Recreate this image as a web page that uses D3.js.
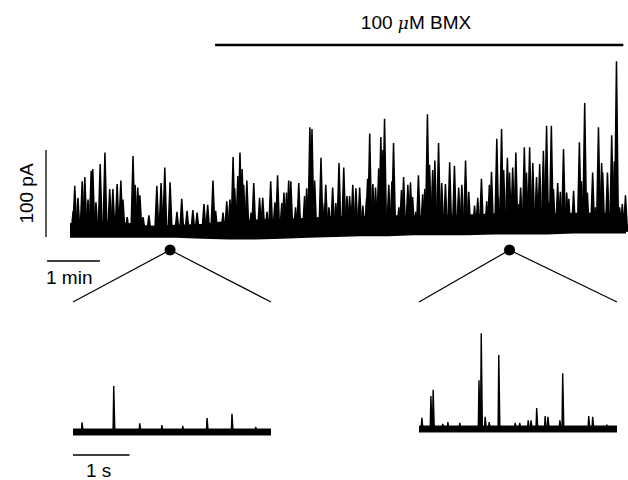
<!DOCTYPE html>
<html>
<head>
<meta charset="utf-8">
<script src="https://cdn.jsdelivr.net/npm/d3@7"></script>
<style>
    body { margin: 0; background: #fff; }
    text { font-family: "Liberation Sans", Arial, sans-serif; fill: #000; }
</style>
</head>
<body>
<svg width="628" height="480"></svg>
<script>
// main recording: event peaks, time in min, amplitude in pA
const mainTime = [0.06, 0.09, 0.15, 0.23, 0.28, 0.34, 0.40, 0.43, 0.49, 0.57, 0.66, 0.75, 0.81, 0.89, 0.96, 1.00,
    1.08, 1.19, 1.23, 1.28, 1.32, 1.38, 1.49, 1.64, 1.72, 1.79, 1.89, 2.02, 2.11, 2.21, 2.32, 2.40, 2.53, 2.60,
    2.70, 2.75, 2.89, 2.96, 3.02, 3.08, 3.11, 3.17, 3.21, 3.25, 3.28, 3.34, 3.42, 3.47, 3.58, 3.64, 3.72, 3.79,
    3.87, 3.92, 4.00, 4.04, 4.09, 4.13, 4.17, 4.26, 4.32, 4.43, 4.47, 4.53, 4.57, 4.62, 4.74, 4.77, 4.83, 4.89,
    4.96, 5.02, 5.08, 5.17, 5.23, 5.28, 5.34, 5.40, 5.47, 5.53, 5.60, 5.62, 5.66, 5.72, 5.77, 5.83, 5.87, 5.91,
    5.94, 6.02, 6.08, 6.11, 6.21, 6.26, 6.30, 6.38, 6.43, 6.47, 6.53, 6.58, 6.66, 6.70, 6.75, 6.79, 6.85, 6.89,
    6.96, 7.02, 7.09, 7.17, 7.26, 7.34, 7.40, 7.47, 7.53, 7.64, 7.70, 7.77, 7.87, 7.92, 7.96, 8.06, 8.09, 8.15,
    8.19, 8.26, 8.30, 8.36, 8.42, 8.47, 8.51, 8.58, 8.62, 8.68, 8.74, 8.81, 8.87, 8.94, 9.00, 9.04, 9.09, 9.13,
    9.21, 9.26, 9.32, 9.38, 9.42, 9.51, 9.62, 9.66, 9.72, 9.77, 9.87, 9.92, 9.98, 10.04, 10.06, 10.15, 10.23,
    10.28, 10.32, 10.38, 10.43, 10.49];
const mainAmp = [30, 59, 45, 64, 69, 43, 76, 78, 40, 84, 97, 55, 55, 61, 65, 43,
    23, 93, 60, 57, 48, 23, 25, 59, 62, 80, 63, 29, 44, 30, 31, 28, 38, 37,
    65, 30, 28, 41, 43, 92, 56, 70, 97, 78, 60, 65, 28, 62, 45, 45, 29, 64,
    40, 71, 39, 51, 51, 65, 64, 34, 62, 47, 56, 126, 124, 65, 91, 39, 60, 34,
    57, 39, 85, 80, 47, 47, 60, 56, 57, 36, 44, 67, 119, 61, 57, 79, 115, 100,
    136, 60, 64, 108, 34, 54, 69, 60, 63, 46, 29, 71, 49, 55, 141, 83, 77, 88,
    108, 62, 61, 86, 82, 57, 60, 88, 52, 36, 45, 67, 41, 60, 75, 113, 46, 124,
    77, 91, 74, 80, 97, 38, 57, 103, 74, 103, 85, 69, 84, 99, 128, 40, 128, 55,
    62, 52, 101, 51, 44, 53, 109, 64, 154, 51, 74, 34, 126, 85, 74, 74, 117,
    87, 202, 34, 38, 48];

// dense noise band of the main trace (pA)
const bandTime = [0, 0.5, 1, 1.5, 2, 2.5, 3, 3.5, 4, 4.5, 5, 5.5, 6, 6.5, 7, 7.5, 8, 8.5, 9, 9.5, 10, 10.5];
const bandLow = [-1, -1, -1, -1, -1, -2, -3, -3, -2, -1, 0, 1, 1, 2, 2, 2, 3, 3, 3, 4, 4, 4];
const bandHigh = [16, 19, 17, 13, 14, 15, 19, 20, 21, 22, 24, 24, 25, 25, 26, 26, 27, 27, 27, 28, 28, 28];

// drug application (min)
const bmxStart = 2.74;
const bmxEnd = 10.45;

// expanded segments (min in main trace)
const zoomAt = [1.89, 8.30];

// left inset (control): time in s, amplitude in pA
const leftTime = [0.16, 0.72, 1.18, 1.57, 1.94, 2.37, 2.81, 3.23];
const leftAmp = [11, 53, 10, 8, 7, 16, 21, 6];

// right inset (BMX)
const rightTime = [0.05, 0.21, 0.25, 0.42, 0.51, 0.72, 1.06, 1.10, 1.17, 1.24, 1.41, 1.70, 1.78, 1.93,
    1.98, 2.08, 2.23, 2.28, 2.49, 2.54, 3.00, 3.07, 3.32];
const rightAmp = [13, 38, 45, 6, 8, 7, 56, 110, 14, 8, 85, 7, 7, 10, 10, 24, 15, 14, 10, 64, 15, 14, 5];

// select the svg
const svg = d3.select("svg");

// scales for main trace
const x = d3.scaleLinear().domain([0, 10.5]).range([70, 626]);
const y = d3.scaleLinear().domain([0, 100]).range([237, 150]);

// drug bar and label
svg.append("line")
    .attr("x1", x(bmxStart)).attr("x2", x(bmxEnd))
    .attr("y1", 45).attr("y2", 45)
    .attr("stroke", "#000").attr("stroke-width", 2.4);

const lab = svg.append("text")
    .attr("x", 416).attr("y", 29)
    .attr("text-anchor", "middle")
    .attr("font-size", 19);
lab.append("tspan").text("100 ");
lab.append("tspan").attr("font-style", "italic").attr("font-family", "DejaVu Serif, serif").attr("font-size", 17).text("μ");
lab.append("tspan").text("M BMX");

// noise band
const band = d3.area()
    .x((d, i) => x(bandTime[i]))
    .y0((d, i) => y(bandLow[i]))
    .y1((d, i) => y(bandHigh[i]));

svg.append("path")
    .datum(bandTime)
    .attr("d", band)
    .attr("fill", "#000");

// events as narrow spikes
const spike = d3.line();
const w = 0.038;

svg.append("g")
    .selectAll("path")
    .data(mainTime)
    .enter()
    .append("path")
    .attr("d", (d, i) => spike([[x(d - w), y(6)], [x(d), y(mainAmp[i])], [x(d + w), y(6)]]))
    .attr("fill", "#000")
    .attr("stroke", "#000")
    .attr("stroke-width", 1.5)
    .attr("stroke-linejoin", "bevel");

// 100 pA scale bar
svg.append("line")
    .attr("x1", 46).attr("x2", 46)
    .attr("y1", y(0)).attr("y2", y(100))
    .attr("stroke", "#000").attr("stroke-width", 1.3);

svg.append("text")
    .attr("transform", "translate(33," + ((y(0) + y(100)) / 2) + ") rotate(-90)")
    .attr("text-anchor", "middle")
    .attr("font-size", 19)
    .text("100 pA");

// 1 min scale bar
svg.append("line")
    .attr("x1", 47).attr("x2", 47 + x(1) - x(0))
    .attr("y1", 261).attr("y2", 261)
    .attr("stroke", "#000").attr("stroke-width", 1.3);

svg.append("text")
    .attr("x", 46).attr("y", 284)
    .attr("font-size", 19)
    .text("1 min");

// inset scales
const xL = d3.scaleLinear().domain([0, 3.5]).range([73, 271]);
const xR = d3.scaleLinear().domain([0, 3.5]).range([419, 617]);
const yL = d3.scaleLinear().domain([0, 100]).range([432, 345]);
const yR = d3.scaleLinear().domain([0, 100]).range([429, 342]);

// zoom markers and insets
const insets = [[xL, yL, leftTime, leftAmp], [xR, yR, rightTime, rightAmp]];

insets.forEach(function(ins, k) {
    const xs = ins[0], ys = ins[1];
    const cx = x(zoomAt[k]);

    svg.append("line")
        .attr("x1", cx).attr("y1", 250)
        .attr("x2", xs(0)).attr("y2", 302)
        .attr("stroke", "#000").attr("stroke-width", 1.2);
    svg.append("line")
        .attr("x1", cx).attr("y1", 250)
        .attr("x2", xs(3.5)).attr("y2", 302)
        .attr("stroke", "#000").attr("stroke-width", 1.2);
    svg.append("circle")
        .attr("cx", cx).attr("cy", 250).attr("r", 5.5)
        .attr("fill", "#000");

    // baseline noise
    svg.append("rect")
        .attr("x", xs(0)).attr("y", ys(4))
        .attr("width", xs(3.5) - xs(0))
        .attr("height", ys(-4) - ys(4))
        .attr("fill", "#000");

    // events
    svg.append("g")
        .selectAll("path")
        .data(ins[2])
        .enter()
        .append("path")
        .attr("d", (d, i) => spike([[xs(d - 0.012), ys(0)], [xs(d), ys(ins[3][i])], [xs(d + 0.02), ys(0)]]))
        .attr("fill", "#000")
        .attr("stroke", "#000")
        .attr("stroke-width", 1.4)
        .attr("stroke-linejoin", "bevel");
});

// 1 s scale bar
svg.append("line")
    .attr("x1", xL(0)).attr("x2", xL(1))
    .attr("y1", 455).attr("y2", 455)
    .attr("stroke", "#000").attr("stroke-width", 1.3);

svg.append("text")
    .attr("x", 86).attr("y", 477)
    .attr("font-size", 19)
    .text("1 s");
</script>
</body>
</html>
